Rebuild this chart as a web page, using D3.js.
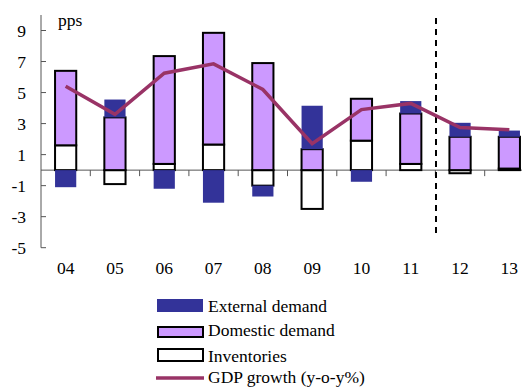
<!DOCTYPE html>
<html><head><meta charset="utf-8">
<script src="https://cdn.jsdelivr.net/npm/d3@7"></script>
<style>body{margin:0;background:#fff}svg{display:block}</style>
</head><body>
<svg id="c" width="522" height="389"></svg>
<script>
const years = ["04","05","06","07","08","09","10","11","12","13"];
const inventories = [1.6,-0.9,0.4,1.65,-1.0,-2.5,1.9,0.4,-0.2,0.1];
const domestic = [4.8,3.4,6.95,7.2,6.9,1.35,2.7,3.25,2.15,2.05];
const external = [-1.1,1.15,-1.2,-2.1,-0.7,2.8,-0.75,0.8,0.9,0.4];
const gdp = [5.4,3.6,6.25,6.85,5.2,1.7,3.9,4.3,2.75,2.6];
const yTicks = [-5,-3,-1,1,3,5,7,9];
const legendLabels = ["External demand","Domestic demand","Inventories","GDP growth (y-o-y%)"];

const FONT = "Liberation Serif";
const svg = d3.select("#c");
const x0 = 41, bandW = 49.3;
const x = d3.scaleBand().domain(years).range([x0, x0 + bandW*years.length]).paddingInner(0.57).paddingOuter(0.285);
const y = d3.scaleLinear().domain([-5,9]).range([247.7,30.5]);

const rows = years.map((yr,i)=>({yr, inv:inventories[i], dom:domestic[i], ext:external[i]}));
const keys = ["inv","dom","ext"];
const stack = d3.stack().keys(keys).offset(d3.stackOffsetDiverging)(rows);
const styles = {inv:{fill:"#ffffff",stroke:"#000",sw:2}, dom:{fill:"#cc99ff",stroke:"#000",sw:2}, ext:{fill:"#333399",stroke:"none",sw:0}};

svg.append("line").attr("x1",x0).attr("x2",522).attr("y1",y(0)).attr("y2",y(0)).attr("stroke","#555").attr("stroke-width",1);

stack.forEach(layer=>{
  const st = styles[layer.key];
  svg.append("g").selectAll("rect").data(layer.filter(d=>Math.abs(d[1]-d[0])>1e-9)).join("rect")
    .attr("x",d=>x(d.data.yr)).attr("width",x.bandwidth())
    .attr("y",d=>y(Math.max(d[0],d[1]))).attr("height",d=>Math.abs(y(d[0])-y(d[1])))
    .attr("fill",st.fill).attr("stroke",st.stroke).attr("stroke-width",st.sw);
});

const xt = years.slice(0,-1).map((yr,i)=>x0 + bandW*(i+1));
svg.append("g").selectAll("line").data(xt).join("line")
  .attr("x1",d=>d).attr("x2",d=>d).attr("y1",y(0)).attr("y2",y(0)+6).attr("stroke","#555");

svg.append("line").attr("x1",x0).attr("x2",x0).attr("y1",15).attr("y2",y(-5)).attr("stroke","#555");
svg.append("g").selectAll("line").data(yTicks).join("line")
  .attr("x1",x0).attr("x2",x0+5).attr("y1",d=>y(d)).attr("y2",d=>y(d)).attr("stroke","#555");
svg.append("g").selectAll("text").data(yTicks).join("text")
  .attr("font-family",FONT).attr("x",26).attr("y",d=>y(d)+6.5).attr("text-anchor","end").attr("font-size",17.5).text(d=>d);
svg.append("text").attr("font-family",FONT).attr("x",58).attr("y",26).attr("font-size",17.5).text("pps");

svg.append("g").selectAll("text").data(years).join("text")
  .attr("font-family",FONT).attr("x",d=>x(d)+x.bandwidth()/2).attr("y",274.3).attr("text-anchor","middle").attr("font-size",17.5).text(d=>d);

svg.append("line").attr("x1",436).attr("x2",436).attr("y1",18).attr("y2",234).attr("stroke","#000").attr("stroke-width",2).attr("stroke-dasharray","6,5");

const line = d3.line().x((d,i)=>x(years[i])+x.bandwidth()/2).y(d=>y(d));
svg.append("path").attr("d",line(gdp)).attr("fill","none").attr("stroke","#993366").attr("stroke-width",3.5);

const lg = svg.append("g");
lg.append("rect").attr("x",157).attr("y",299).attr("width",46).attr("height",13).attr("fill","#333399");
lg.append("rect").attr("x",158).attr("y",327).attr("width",45).attr("height",10).attr("fill","#cc99ff").attr("stroke","#000").attr("stroke-width",2);
lg.append("rect").attr("x",158).attr("y",349).attr("width",45).attr("height",12).attr("fill","#fff").attr("stroke","#000").attr("stroke-width",2);
lg.append("line").attr("x1",156).attr("x2",204).attr("y1",378).attr("y2",378).attr("stroke","#993366").attr("stroke-width",3.5);
const baselines = [311.7,336,361.7,383.3];
lg.selectAll("text").data(legendLabels).join("text")
  .attr("font-family",FONT).attr("font-size",17.5).attr("x",208).attr("y",(d,i)=>baselines[i]).text(d=>d);
</script>
</body></html>
